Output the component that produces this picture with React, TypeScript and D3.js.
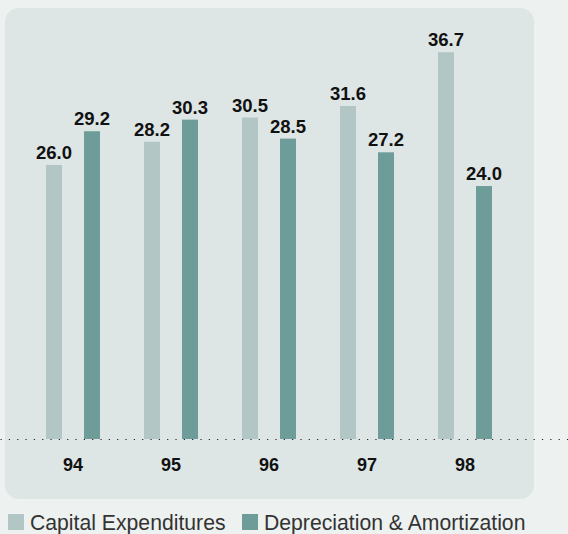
import { useEffect, useRef } from 'react'
import * as d3 from 'd3'

// values ($ millions)
const years = ['94', '95', '96', '97', '98']
const capex = [26.0, 28.2, 30.5, 31.6, 36.7]
const depreciation = [29.2, 30.3, 28.5, 27.2, 24.0]
const seriesNames = ['Capital Expenditures', 'Depreciation & Amortization']
const seriesColors = ['#b2c6c5', '#6e9c98']

const W = 568
const H = 534

function App() {
  const ref = useRef<SVGSVGElement>(null)

  useEffect(() => {
    if (!ref.current) return
    const svg = d3.select(ref.current)
    svg.selectAll('*').remove()

    const font = '"Liberation Sans", Arial, sans-serif'
    const baseline = 439

    // page + panel background
    svg.append('rect').attr('width', W).attr('height', H).attr('fill', '#edf1f0')
    svg.append('rect')
      .attr('x', 5).attr('y', 8)
      .attr('width', 529).attr('height', 491)
      .attr('rx', 14)
      .attr('fill', '#dde6e5')

    const x0 = d3.scaleBand().domain(years).range([24, 514])
    const x1 = d3.scaleBand()
      .domain(seriesNames)
      .range([22, 76])
      .paddingInner(22 / 38)
    const y = d3.scaleLinear().domain([0, 40]).range([baseline, baseline - 421.6])

    const rows = years.map((yr, i) => ({
      year: yr,
      values: [
        { name: seriesNames[0], value: capex[i], color: seriesColors[0] },
        { name: seriesNames[1], value: depreciation[i], color: seriesColors[1] },
      ],
    }))

    const groups = svg.selectAll('.group')
      .data(rows)
      .enter()
      .append('g')
      .attr('class', 'group')
      .attr('transform', d => `translate(${x0(d.year)},0)`)

    groups.selectAll('rect')
      .data(d => d.values)
      .enter()
      .append('rect')
      .attr('x', d => x1(d.name)!)
      .attr('width', x1.bandwidth())
      .attr('y', d => y(d.value))
      .attr('height', d => baseline - y(d.value))
      .attr('fill', d => d.color)

    groups.selectAll('text.val')
      .data(d => d.values)
      .enter()
      .append('text')
      .attr('class', 'val')
      .attr('x', d => x1(d.name)! + x1.bandwidth() / 2)
      .attr('y', d => y(d.value) - 6)
      .attr('text-anchor', 'middle')
      .attr('font-family', font)
      .attr('font-weight', 'bold')
      .attr('font-size', '18.5px')
      .attr('fill', '#111')
      .text(d => d.value.toFixed(1))

    // dotted baseline across the whole page
    svg.append('line')
      .attr('x1', 0.5).attr('x2', W)
      .attr('y1', baseline + 0.5).attr('y2', baseline + 0.5)
      .attr('stroke', '#222')
      .attr('stroke-width', 1.2)
      .attr('stroke-dasharray', '1.2 7.13')

    // category axis
    const axis = svg.append('g')
      .attr('transform', `translate(0,${baseline})`)
      .call(d3.axisBottom(x0).tickSize(0).tickPadding(0))
    axis.select('.domain').remove()
    axis.selectAll('text')
      .attr('y', 32)
      .attr('dy', 0)
      .attr('font-family', font)
      .attr('font-weight', 'bold')
      .attr('font-size', '18px')
      .attr('fill', '#111')

    // legend
    const legendX = [8, 242]
    const legend = svg.selectAll('.legend')
      .data(seriesNames)
      .enter()
      .append('g')
      .attr('class', 'legend')
      .attr('transform', (_, i) => `translate(${legendX[i]},514)`)
    legend.append('rect')
      .attr('width', 16).attr('height', 16)
      .attr('fill', (_, i) => seriesColors[i])
    legend.append('text')
      .attr('x', 22)
      .attr('y', 15.5)
      .attr('font-family', font)
      .attr('font-size', '21.2px')
      .attr('fill', '#333')
      .text(d => d)
  }, [])

  return (
    <svg
      ref={ref}
      width={W}
      height={H}
      style={{ position: 'absolute', left: 0, top: 0, display: 'block' }}
    />
  )
}

export default App
